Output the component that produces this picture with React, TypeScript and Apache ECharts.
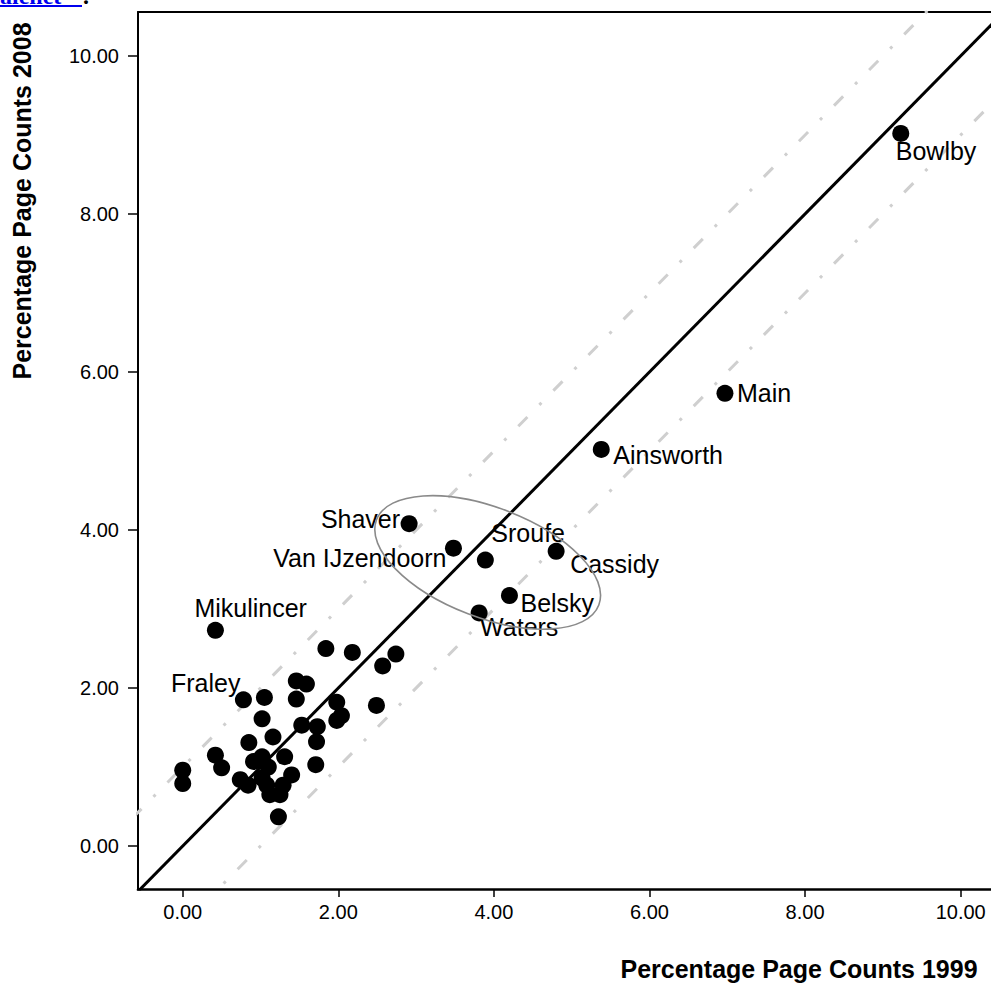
import React, { useEffect, useRef } from "react";
import * as echarts from "echarts";

// ---- data ----
const labeledNames = ["Bowlby", "Main", "Ainsworth", "Shaver", "Van IJzendoorn", "Sroufe", "Cassidy", "Belsky", "Waters", "Mikulincer", "Fraley"];
const labeledX1999 = [9.23, 6.97, 5.38, 2.91, 3.48, 3.89, 4.8, 4.2, 3.81, 0.42, 0.78];
const labeledY2008 = [9.02, 5.73, 5.02, 4.08, 3.77, 3.62, 3.73, 3.17, 2.95, 2.73, 1.85];

const otherX1999 = [
  0.0, 0.0, 0.42, 0.5, 0.74, 0.84, 0.85, 0.91, 1.02, 1.05, 1.02, 1.02, 1.08, 1.1, 1.12, 1.25, 1.16, 1.31, 1.4,
  1.29, 1.23, 1.46, 1.59, 1.46, 1.53, 1.73, 1.72, 1.71, 1.84, 2.18, 1.98, 2.04, 1.98, 2.49, 2.57, 2.74,
];
const otherY2008 = [
  0.96, 0.79, 1.15, 0.99, 0.84, 0.77, 1.31, 1.07, 1.13, 1.88, 1.61, 0.86, 0.77, 1.0, 0.65, 0.65, 1.38, 1.13, 0.9,
  0.77, 0.37, 2.09, 2.05, 1.86, 1.53, 1.51, 1.32, 1.03, 2.5, 2.45, 1.82, 1.65, 1.59, 1.78, 2.28, 2.43,
];

const tickValues = [0, 2, 4, 6, 8, 10];
const referenceOffsets = [0, 1, -1]; // y = x, y = x + 1, y = x - 1
const xTitle = "Percentage Page Counts 1999";
const yTitle = "Percentage Page Counts 2008";

// ---- layout / style (not data) ----
const X_MIN = -0.575;
const X_MAX = 10.39;
const Y_MIN = -0.544;
const Y_MAX = 10.557;
// label placement per labelled point: [align, dx, dy] relative to the point centre
const labelPlacement: [string, number, number][] = [
  ["left", -5, 18],
  ["left", 12, 0],
  ["left", 12, 6],
  ["right", -9, -5],
  ["right", -7, 10],
  ["left", 6, -27],
  ["left", 14, 13],
  ["left", 11, 7],
  ["left", 1, 14],
  ["left", -21, -22],
  ["right", -3, -17],
];
const FONT = '"Liberation Sans", Arial, Helvetica, sans-serif';

export default function App() {
  const ref = useRef<HTMLDivElement>(null);

  useEffect(() => {
    if (!ref.current) return;
    const chart = echarts.init(ref.current, null, { renderer: "svg" });

    const labeledData = labeledNames.map((n, i) => ({
      value: [labeledX1999[i], labeledY2008[i]],
      name: n,
      label: {
        show: true,
        formatter: n,
        position: "inside",
        align: labelPlacement[i][0],
        verticalAlign: "middle",
        color: "#000",
        fontFamily: FONT,
        fontSize: 25,
      },
    }));
    const otherData = otherX1999.map((x, i) => [x, otherY2008[i]]);

    const refSeries = referenceOffsets.map((off) => ({
      type: "line",
      data: [
        [-2, -2 + off],
        [12, 12 + off],
      ],
      symbol: "none",
      clip: true,
      silent: true,
      z: off === 0 ? 3 : 1,
      lineStyle:
        off === 0
          ? { color: "#000", width: 3, type: "solid" }
          : { color: "#cfcfcf", width: 3, type: [13, 17, 3, 17], cap: "butt" },
    }));

    const option: any = {
      animation: false,
      backgroundColor: "#fff",
      grid: { left: 138, top: 12, right: 0, bottom: 94, containLabel: false },
      xAxis: [
        {
          type: "value",
          min: X_MIN,
          max: X_MAX,
          splitLine: { show: false },
          axisLine: { show: true, onZero: false, lineStyle: { color: "#000", width: 2.5 } },
          axisTick: { show: true, length: 8, customValues: tickValues, lineStyle: { color: "#000", width: 1.5 } },
          axisLabel: {
            customValues: tickValues,
            formatter: (v: number) => v.toFixed(2),
            color: "#000",
            fontFamily: FONT,
            fontSize: 20,
            margin: 13,
          },
        },
        {
          type: "value",
          position: "top",
          min: X_MIN,
          max: X_MAX,
          splitLine: { show: false },
          axisLine: { show: true, onZero: false, lineStyle: { color: "#000", width: 2 } },
          axisTick: { show: false },
          axisLabel: { show: false },
        },
      ],
      yAxis: {
        type: "value",
        min: Y_MIN,
        max: Y_MAX,
        splitLine: { show: false },
        axisLine: { show: true, onZero: false, lineStyle: { color: "#000", width: 2 } },
        axisTick: { show: true, length: 10, customValues: tickValues, lineStyle: { color: "#000", width: 1.5 } },
        axisLabel: {
          customValues: tickValues,
          formatter: (v: number) => v.toFixed(2),
          color: "#000",
          fontFamily: FONT,
          fontSize: 20,
          margin: 19,
        },
      },
      series: [
        ...refSeries,
        {
          type: "scatter",
          data: otherData,
          symbol: "circle",
          symbolSize: 17,
          itemStyle: { color: "#000", opacity: 1 },
          z: 5,
        },
        {
          type: "scatter",
          data: labeledData,
          symbol: "circle",
          symbolSize: 17,
          itemStyle: { color: "#000", opacity: 1 },
          labelLayout: (params: any) => ({
            dx: labelPlacement[params.dataIndex][1],
            dy: labelPlacement[params.dataIndex][2],
            hideOverlap: false,
          }),
          z: 6,
        },
      ],
    };
    chart.setOption(option);

    const c = chart.convertToPixel({ gridIndex: 0 }, [3.92, 3.59]) as number[];
    chart.setOption({
      graphic: [
        {
          type: "ellipse",
          x: c[0],
          y: c[1],
          rotation: (-21 * Math.PI) / 180,
          shape: { cx: 0, cy: 0, rx: 119, ry: 55 },
          style: { fill: "none", stroke: "#8a8a8a", lineWidth: 1.6 },
          z: 10,
        },
        {
          type: "text",
          x: 799,
          y: 969,
          style: {
            text: xTitle,
            font: `bold 25px ${FONT}`,
            fill: "#000",
            align: "center",
            verticalAlign: "middle",
          },
        },
        {
          type: "text",
          x: 22,
          y: 201,
          rotation: Math.PI / 2,
          style: {
            text: yTitle,
            font: `bold 25px ${FONT}`,
            fill: "#000",
            align: "center",
            verticalAlign: "middle",
          },
        },
        {
          type: "text",
          x: 0,
          y: 8,
          style: {
            text: "alenet",
            font: 'bold 24px "Liberation Serif", serif',
            fill: "#0000EE",
            align: "left",
            verticalAlign: "bottom",
          },
        },
        {
          type: "line",
          shape: { x1: 0, y1: 6, x2: 82, y2: 6 },
          style: { stroke: "#0000EE", lineWidth: 2 },
        },
        {
          type: "text",
          x: 83,
          y: 8,
          style: {
            text: ".",
            font: 'bold 24px "Liberation Serif", serif',
            fill: "#000",
            align: "left",
            verticalAlign: "bottom",
          },
        },
      ],
    });

    return () => chart.dispose();
  }, []);

  return (
    <div
      ref={ref}
      style={{ position: "fixed", left: 0, top: 0, width: 991, height: 983, background: "#fff" }}
    />
  );
}
